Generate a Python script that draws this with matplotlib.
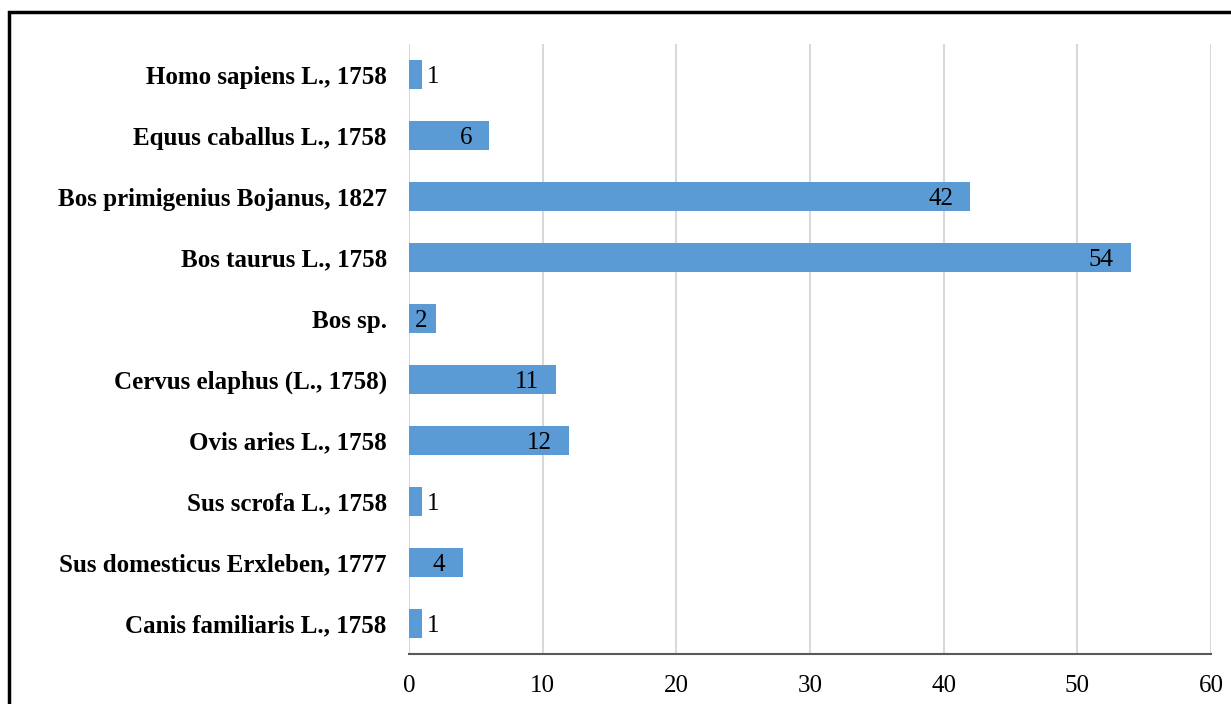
import matplotlib
matplotlib.use("Agg")
import matplotlib.pyplot as plt
from matplotlib.patches import Rectangle

species = [
    "Canis familiaris L., 1758",
    "Sus domesticus Erxleben, 1777",
    "Sus scrofa L., 1758",
    "Ovis aries L., 1758",
    "Cervus elaphus (L., 1758)",
    "Bos sp.",
    "Bos taurus L., 1758",
    "Bos primigenius Bojanus, 1827",
    "Equus caballus L., 1758",
    "Homo sapiens L., 1758",
]
counts = [1, 4, 1, 12, 11, 2, 54, 42, 6, 1]

plt.rcParams["font.family"] = ["Liberation Serif", "DejaVu Serif"]

fig = plt.figure(figsize=(12.31, 7.04), dpi=100)
ax = fig.add_axes([0.3323, 0.0710, 0.6515, 0.8665])

ypos = list(range(len(species)))
ax.barh(ypos, counts, height=0.46, color="#5b9bd5", zorder=3)

for y, v in zip(ypos, counts):
    if v == 1:
        ax.annotate(str(v), (v, y), xytext=(3, 0), textcoords="offset points",
                    ha="left", va="center_baseline", fontsize=18, zorder=4)
    elif v == 2:
        ax.annotate(str(v), (v, y), xytext=(-6, 0), textcoords="offset points",
                    ha="right", va="center_baseline", fontsize=18, zorder=4)
    else:
        ax.annotate(str(v), (v, y), xytext=(-12.5, 0), textcoords="offset points",
                    ha="right", va="center_baseline", fontsize=18, zorder=4)

ax.set_xlim(0, 60)
ax.set_ylim(-0.5, len(species) - 0.5)
ax.set_xticks(range(0, 61, 10))
ax.set_yticks(ypos)
ax.set_yticklabels(species, fontweight="bold", fontsize=18)
ax.tick_params(axis="x", labelsize=18, length=0, pad=15)
ax.tick_params(axis="y", length=0, pad=16)

ax.grid(True, axis="x", color="#d9d9d9", linewidth=1.5, zorder=0)
for s in ["top", "right", "left"]:
    ax.spines[s].set_visible(False)
ax.spines["bottom"].set_color("#595959")
ax.spines["bottom"].set_linewidth(1.5)
ax.spines["bottom"].set_zorder(5)

# outer frame (cut off at right and bottom)
fig.patches.append(Rectangle((9 / 1231, -0.1), 1.2, 1 - 12 / 704 + 0.1,
                             transform=fig.transFigure, fill=False,
                             edgecolor="black", linewidth=2.5))

fig.savefig("out.png", dpi=100)
